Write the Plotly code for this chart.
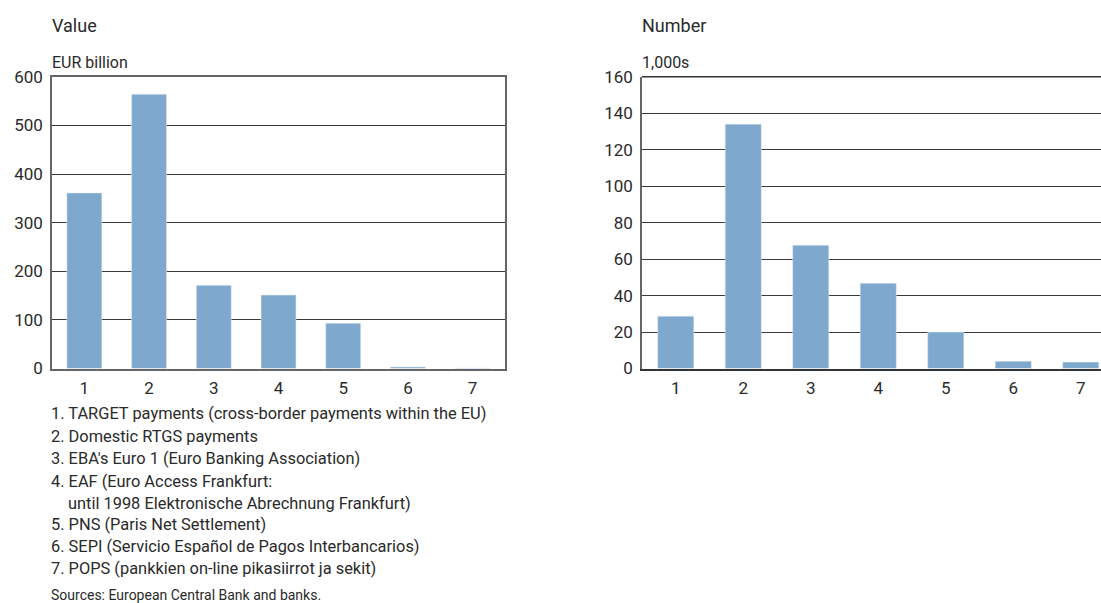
import plotly.graph_objects as go

W, H = 1101, 603

categories = [1, 2, 3, 4, 5, 6, 7]
value_eur_bn = [361, 564, 171, 151, 93, 3, 1]
number_thousands = [28.7, 134, 67.6, 46.8, 20, 4, 3.5]
value_ticks = [0, 100, 200, 300, 400, 500, 600]
number_ticks = [0, 20, 40, 60, 80, 100, 120, 140, 160]
legend_lines = [
    "1. TARGET payments (cross-border payments within the EU)",
    "2. Domestic RTGS payments",
    "3. EBA's Euro 1 (Euro Banking Association)",
    "4. EAF (Euro Access Frankfurt:",
    "    until 1998 Elektronische Abrechnung Frankfurt)",
    "5. PNS (Paris Net Settlement)",
    "6. SEPI (Servicio Español de Pagos Interbancarios)",
    "7. POPS (pankkien on-line pikasiirrot ja sekit)",
]
source_text = "Sources: European Central Bank and banks."

BAR = "#7ea9cc"
FONT = "Roboto"
TXT = "#2a2a2a"

fig = go.Figure()
fig.add_trace(go.Bar(x=categories, y=value_eur_bn, marker_color=BAR, width=0.54,
                     xaxis="x", yaxis="y", showlegend=False))
fig.add_trace(go.Bar(x=categories, y=number_thousands, marker_color=BAR, width=0.535,
                     xaxis="x2", yaxis="y2", showlegend=False))

def px(x):
    return x / W

def py(y):
    return 1 - y / H

ydom = [py(368.5), py(76.8)]
tickfont = dict(family=FONT, size=17, color=TXT)
fig.update_layout(
    width=W, height=H,
    margin=dict(l=0, r=0, t=0, b=0, autoexpand=False),
    paper_bgcolor="white", plot_bgcolor="white",
    font=dict(family=FONT, color=TXT),
    xaxis=dict(domain=[px(52), px(505)], range=[0.5, 7.5], tickvals=categories,
               showline=True, linecolor="#666", linewidth=1.5, mirror=True,
               showgrid=False, zeroline=False, ticks="", tickfont=tickfont,
               ticklabelstandoff=3),
    yaxis=dict(domain=ydom, range=[0, 600], tickvals=value_ticks,
               showline=True, linecolor="#666", linewidth=1.5, mirror=True,
               showgrid=True, gridcolor="#3a3a3a", gridwidth=1.3,
               zeroline=False, ticks="", tickfont=tickfont, ticklabelstandoff=4),
    xaxis2=dict(domain=[px(642), 1.0], range=[0.5, 7.3], tickvals=categories,
                anchor="y2", showline=True, linecolor="#333", linewidth=1.5,
                showgrid=False, zeroline=False, ticks="", tickfont=tickfont,
                ticklabelstandoff=3),
    yaxis2=dict(domain=ydom, range=[0, 160], tickvals=number_ticks, anchor="x2",
                showline=True, linecolor="#666", linewidth=1.5,
                showgrid=True, gridcolor="#3a3a3a", gridwidth=1.3,
                zeroline=False, ticks="", tickfont=tickfont, ticklabelstandoff=4),
)

# top border for right panel
fig.add_shape(type="line", xref="paper", yref="paper", x0=px(642), x1=1.0,
              y0=ydom[1], y1=ydom[1], line=dict(color="#333", width=1.5))

def label(x, y, text, size=16):
    fig.add_annotation(xref="paper", yref="paper", x=px(x), y=py(y), text=text,
                       showarrow=False, xanchor="left", yanchor="middle",
                       font=dict(family=FONT, size=size, color=TXT))

label(50, 25, "Value", 18)
label(50, 63, "EUR billion", 16)
label(640, 25, "Number", 18)
label(640, 63, "1,000s", 16)

ys = [413, 436, 458, 481, 503, 524, 546, 568]
for yy, t in zip(ys, legend_lines):
    if t.startswith("    "):
        label(66, yy, t.strip(), 16.4)
    else:
        label(49, yy, t, 16.4)
label(49, 595, source_text, 14)

fig.write_html(
    "out.html",
    config={"displayModeBar": False},
    post_script="document.body.style.margin='0';document.body.style.overflow='hidden';",
)
